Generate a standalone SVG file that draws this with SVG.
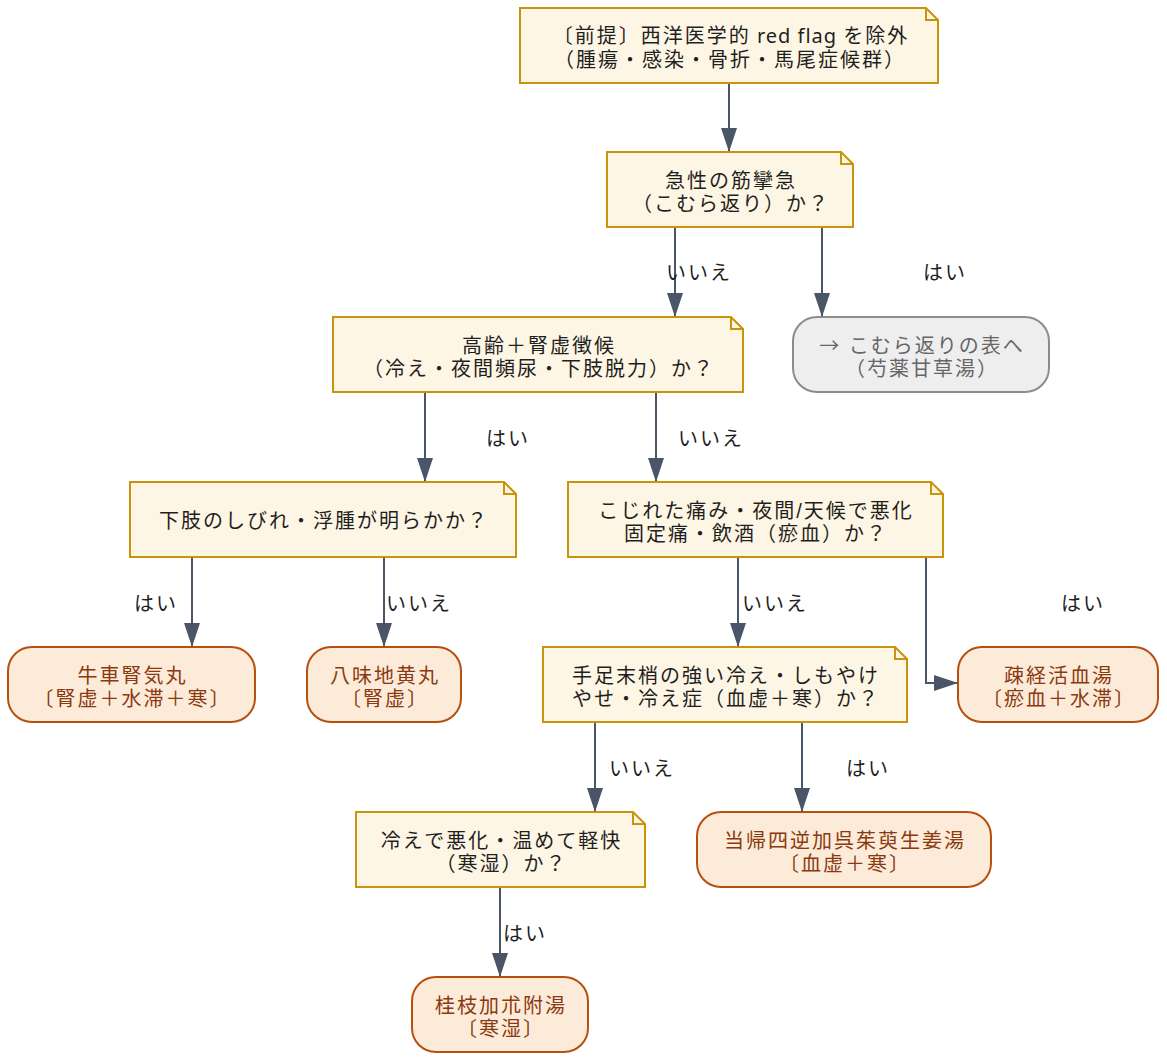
<svg xmlns="http://www.w3.org/2000/svg" width="1167" height="1061" viewBox="0 0 1167 1061">
<defs>
<style>
text{font-family:"Liberation Sans","Noto Sans CJK JP",sans-serif;font-size:20px;letter-spacing:2px;text-anchor:middle}
.lat{font-family:"Noto Sans",sans-serif;letter-spacing:1px}
.cjk{font-family:"Noto Sans CJK JP",sans-serif}
.note{fill:#fef6e4;stroke:#c9930b;stroke-width:2}
.fold{fill:none;stroke:#c9930b;stroke-width:2}
.nt{fill:#1f1f1f}
.res{fill:#fdebd9;stroke:#b5500f;stroke-width:2}
.rt{fill:#8a3a10}
.ref{fill:#eeeeee;stroke:#8c8c8c;stroke-width:2}
.gt{fill:#666666}
.edge{fill:none;stroke:#4a5568;stroke-width:2}
.lbl{fill:#1f1f1f}
</style>
<marker id="arr" markerUnits="userSpaceOnUse" markerWidth="24" markerHeight="16" refX="24" refY="8" orient="auto">
<path d="M0,0 L24,8 L0,16 z" fill="#4a5568"/>
</marker>
</defs>
<rect width="1167" height="1061" fill="#ffffff"/>

<g id="connectors">
<path class="edge" d="M729,83 V152" marker-end="url(#arr)"/>
<path class="edge" d="M675,227 V317" marker-end="url(#arr)"/>
<path class="edge" d="M822,227 V317" marker-end="url(#arr)"/>
<path class="edge" d="M425,392 V482" marker-end="url(#arr)"/>
<path class="edge" d="M656,392 V482" marker-end="url(#arr)"/>
<path class="edge" d="M192,557 V647" marker-end="url(#arr)"/>
<path class="edge" d="M384,557 V647" marker-end="url(#arr)"/>
<path class="edge" d="M738,557 V647" marker-end="url(#arr)"/>
<path class="edge" d="M926,557 V683 H958" marker-end="url(#arr)"/>
<path class="edge" d="M595,722 V812" marker-end="url(#arr)"/>
<path class="edge" d="M802,722 V812" marker-end="url(#arr)"/>
<path class="edge" d="M500,887 V977" marker-end="url(#arr)"/>
<text class="lbl" x="699" y="280">いいえ</text>
<text class="lbl" x="945" y="280">はい</text>
<text class="lbl" x="508" y="446">はい</text>
<text class="lbl" x="711" y="446">いいえ</text>
<text class="lbl" x="156" y="611">はい</text>
<text class="lbl" x="419" y="611">いいえ</text>
<text class="lbl" x="775" y="611">いいえ</text>
<text class="lbl" x="1083" y="611">はい</text>
<text class="lbl" x="642" y="776">いいえ</text>
<text class="lbl" x="868" y="776">はい</text>
<text class="lbl" x="525" y="941">はい</text>
</g>

<g id="n1">
<path class="note" d="M520,8 H926 L938,20 V83 H520 Z"/>
<path class="fold" d="M926,8 V20 H938"/>
<text class="nt" x="731" y="43">〔前提〕西洋医学的<tspan class="lat"> red flag </tspan>を除外</text>
<text class="nt" x="730" y="67">（腫瘍・感染・骨折・馬尾症候群）</text>
</g>
<g id="n2">
<path class="note" d="M607,152 H841 L853,164 V227 H607 Z"/>
<path class="fold" d="M841,152 V164 H853"/>
<text class="nt" x="731" y="188">急性の筋攣急</text>
<text class="nt" x="731" y="211">（こむら返り）か？</text>
</g>
<g id="n3">
<path class="note" d="M333,317 H731 L743,329 V392 H333 Z"/>
<path class="fold" d="M731,317 V329 H743"/>
<text class="nt" x="539" y="353">高齢＋腎虚徴候</text>
<text class="nt" x="539" y="376">（冷え・夜間頻尿・下肢脱力）か？</text>
</g>
<g id="n4">
<rect class="ref" x="793" y="317" width="256" height="75" rx="24"/>
<text class="gt" x="922" y="353"><tspan class="cjk">→</tspan> こむら返りの表へ</text>
<text class="gt" x="922" y="376">（芍薬甘草湯）</text>
</g>
<g id="n5">
<path class="note" d="M130,482 H504 L516,494 V557 H130 Z"/>
<path class="fold" d="M504,482 V494 H516"/>
<text class="nt" x="324" y="528">下肢のしびれ・浮腫が明らかか？</text>
</g>
<g id="n6">
<path class="note" d="M568,482 H931 L943,494 V557 H568 Z"/>
<path class="fold" d="M931,482 V494 H943"/>
<text class="nt" x="756" y="518">こじれた痛み・夜間/天候で悪化</text>
<text class="nt" x="756" y="541">固定痛・飲酒（瘀血）か？</text>
</g>
<g id="n7">
<rect class="res" x="8" y="647" width="247" height="75" rx="24"/>
<text class="rt" x="132.5" y="683">牛車腎気丸</text>
<text class="rt" x="132.5" y="706">〔腎虚＋水滞＋寒〕</text>
</g>
<g id="n8">
<rect class="res" x="307" y="647" width="154" height="75" rx="24"/>
<text class="rt" x="385" y="683">八味地黄丸</text>
<text class="rt" x="385" y="706">〔腎虚〕</text>
</g>
<g id="n9">
<path class="note" d="M543,647 H895 L907,659 V722 H543 Z"/>
<path class="fold" d="M895,647 V659 H907"/>
<text class="nt" x="726" y="683">手足末梢の強い冷え・しもやけ</text>
<text class="nt" x="726" y="706">やせ・冷え症（血虚＋寒）か？</text>
</g>
<g id="n10">
<rect class="res" x="958" y="647" width="200" height="75" rx="24"/>
<text class="rt" x="1059" y="683">疎経活血湯</text>
<text class="rt" x="1059" y="706">〔瘀血＋水滞〕</text>
</g>
<g id="n11">
<path class="note" d="M356,812 H633 L645,824 V887 H356 Z"/>
<path class="fold" d="M633,812 V824 H645"/>
<text class="nt" x="501.5" y="848">冷えで悪化・温めて軽快</text>
<text class="nt" x="501.5" y="871">（寒湿）か？</text>
</g>
<g id="n12">
<rect class="res" x="697" y="812" width="294" height="75" rx="24"/>
<text class="rt" x="845" y="848">当帰四逆加呉茱萸生姜湯</text>
<text class="rt" x="845" y="871">〔血虚＋寒〕</text>
</g>
<g id="n13">
<rect class="res" x="412" y="977" width="176" height="75" rx="24"/>
<text class="rt" x="501" y="1013">桂枝加朮附湯</text>
<text class="rt" x="501" y="1036">〔寒湿〕</text>
</g>
</svg>
